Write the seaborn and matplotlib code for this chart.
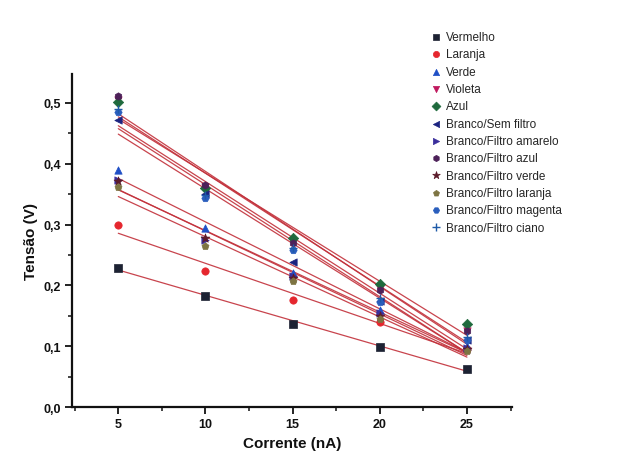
import numpy as np
import pandas as pd
import matplotlib
matplotlib.use("Agg")
import matplotlib.pyplot as plt
import seaborn as sns

# Current (nA) at which the voltage was measured
corrente = [5, 10, 15, 20, 25]

# Measured voltage (V) per light source / filter
vermelho = [0.229, 0.183, 0.137, 0.099, 0.063]
laranja = [0.300, 0.224, 0.176, 0.140, 0.095]
verde = [0.390, 0.295, 0.220, 0.160, 0.100]
violeta = [0.505, 0.362, 0.272, 0.195, 0.125]
azul = [0.502, 0.360, 0.278, 0.203, 0.136]
branco_sem_filtro = [0.472, 0.350, 0.238, 0.175, 0.110]
filtro_amarelo = [0.373, 0.275, 0.215, 0.155, 0.098]
filtro_azul = [0.512, 0.365, 0.270, 0.192, 0.125]
filtro_verde = [0.372, 0.278, 0.212, 0.150, 0.095]
filtro_laranja = [0.362, 0.265, 0.207, 0.145, 0.092]
filtro_magenta = [0.485, 0.343, 0.258, 0.172, 0.110]
filtro_ciano = [0.490, 0.348, 0.262, 0.180, 0.115]

series_names = ['Vermelho', 'Laranja', 'Verde', 'Violeta', 'Azul',
                'Branco/Sem filtro', 'Branco/Filtro amarelo', 'Branco/Filtro azul',
                'Branco/Filtro verde', 'Branco/Filtro laranja', 'Branco/Filtro magenta',
                'Branco/Filtro ciano']
series_values = [vermelho, laranja, verde, violeta, azul, branco_sem_filtro,
                 filtro_amarelo, filtro_azul, filtro_verde, filtro_laranja,
                 filtro_magenta, filtro_ciano]

x_ticks = [5, 10, 15, 20, 25]
x_tick_labels = ['5', '10', '15', '20', '25']
y_ticks = [0.0, 0.1, 0.2, 0.3, 0.4, 0.5]
y_tick_labels = ['0,0', '0,1', '0,2', '0,3', '0,4', '0,5']

# Origin-like marker styles as they look in the printout
colors = ['#1d2233', '#e5262e', '#1f4fc6', '#c0185e', '#1f6a3d', '#1b2380',
          '#3a2e9c', '#4d2159', '#5b1b2a', '#7d7442', '#2a5ebd', '#1e5aa8']
markers = ['s', 'o', '^', 'v', 'D', '<', '>', 'h', '*', 'p', 'H', '+']
line_color = '#c2303a'

sns.set_theme(style="ticks")
plt.rcParams['font.family'] = ['Liberation Sans', 'DejaVu Sans']

# Long format table for seaborn
rows = []
for name, vals in zip(series_names, series_values):
    for x, y in zip(corrente, vals):
        rows.append({'Corrente': x, 'Tensao': y, 'Serie': name})
df = pd.DataFrame(rows)

fig = plt.figure(figsize=(6.27, 4.56), dpi=100)
ax = fig.add_axes([0.115, 0.105, 0.702, 0.731])

# Linear fits (red) for each series
for name in series_names:
    sub = df[df['Serie'] == name]
    sns.regplot(data=sub, x='Corrente', y='Tensao', ax=ax, ci=None, scatter=False,
                color=line_color, line_kws={'lw': 0.9, 'alpha': 0.9, 'zorder': 2})

# Data points
for name, c, m in zip(series_names, colors, markers):
    sub = df[df['Serie'] == name]
    size = 45 if m == '*' else 28
    if m == '+':
        sns.scatterplot(data=sub, x='Corrente', y='Tensao', ax=ax, marker=m, s=40,
                        color=c, linewidth=1.0, label=name, zorder=3)
    else:
        sns.scatterplot(data=sub, x='Corrente', y='Tensao', ax=ax, marker=m, s=size,
                        color=c, edgecolor=c, linewidth=0.5, label=name, zorder=3)

ax.set_xlim(2.35, 27.6)
ax.set_ylim(0.0, 0.548)
ax.set_xticks(x_ticks)
ax.set_xticklabels(x_tick_labels)
ax.set_yticks(y_ticks)
ax.set_yticklabels(y_tick_labels)
ax.set_xticks([2.5, 7.5, 12.5, 17.5, 22.5, 27.5], minor=True)
ax.set_yticks([0.05, 0.15, 0.25, 0.35, 0.45], minor=True)
ax.tick_params(axis='both', which='major', direction='out', length=5, width=1.3,
               labelsize=9, colors='#111111', pad=3)
ax.tick_params(axis='both', which='minor', direction='out', length=3, width=1.1,
               colors='#111111')
for lab in ax.get_xticklabels() + ax.get_yticklabels():
    lab.set_fontweight('bold')

sns.despine(ax=ax)
for side in ['left', 'bottom']:
    ax.spines[side].set_linewidth(1.6)
    ax.spines[side].set_color('#111111')

ax.set_xlabel('Corrente (nA)', fontsize=11, fontweight='bold', color='#111111')
ax.set_ylabel('Tensão (V)', fontsize=11, fontweight='bold', color='#111111')

handles, labels = ax.get_legend_handles_labels()
ax.legend(handles, labels, loc='upper left', bbox_to_anchor=(0.677, 0.94),
          bbox_transform=fig.transFigure, frameon=False, fontsize=8.5,
          handletextpad=0.2, labelspacing=0.45, borderaxespad=0, handlelength=1.2,
          markerscale=0.85)

fig.savefig('out.png', dpi=100)
